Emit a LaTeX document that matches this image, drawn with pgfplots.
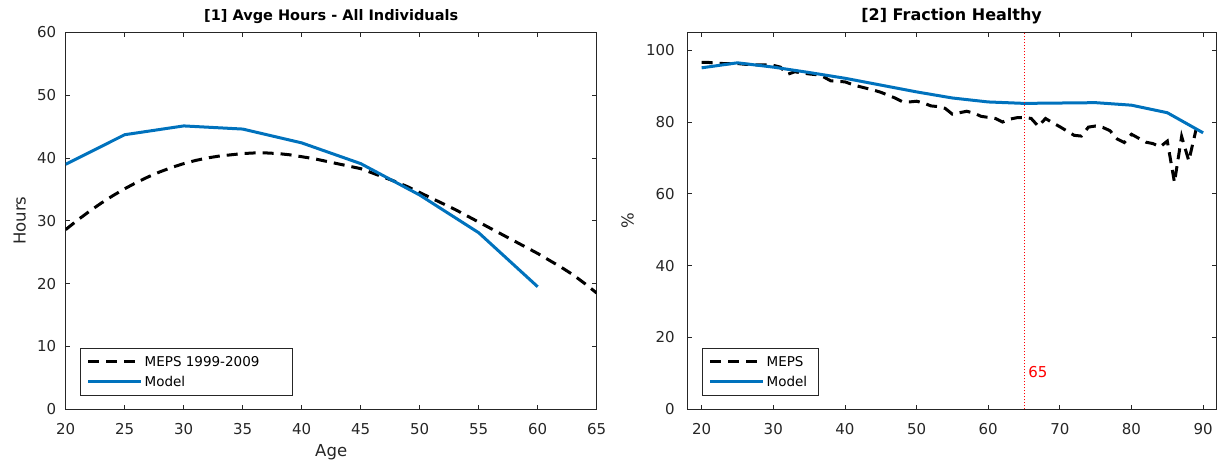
\documentclass[border=0pt]{standalone}
\usepackage{fontspec}
\setmainfont{DejaVu Sans}
\usepackage{pgfplots}
\pgfplotsset{compat=1.18}
\definecolor{mblue}{RGB}{0,114,189}
\definecolor{axgray}{RGB}{38,38,38}

\pgfplotstableread{
age hours
20 28.6
21 30.1
22 31.5
23 32.8
24 34.0
25 35.1
26 36.1
27 37.0
28 37.8
29 38.5
30 39.1
31 39.6
32 40.0
33 40.3
34 40.5
35 40.7
36 40.8
37 40.8
38 40.7
39 40.5
40 40.2
41 39.9
42 39.5
43 39.1
44 38.7
45 38.3
46 37.6
47 36.9
48 36.2
49 35.4
50 34.5
51 33.6
52 32.7
53 31.8
54 30.8
55 29.8
56 28.8
57 27.8
58 26.8
59 25.8
60 24.8
61 23.7
62 22.6
63 21.4
64 20.0
65 18.5
}\mepshours

\pgfplotstableread{
age hours
20 39.0
25 43.7
30 45.1
35 44.6
40 42.4
45 39.1
50 34.1
55 28.1
60 19.5
}\modelhours

\pgfplotstableread{
age pct
20 96.6
21 96.6
22 96.4
23 96.3
24 96.3
25 96.3
26 96.1
27 96.0
28 95.9
29 95.9
30 95.8
31 95.3
32 93.3
33 94.0
34 93.7
35 93.4
36 93.2
37 92.6
38 91.5
39 91.3
40 91.2
41 90.5
42 89.9
43 89.4
44 88.9
45 88.3
46 87.5
47 86.7
48 85.7
49 85.6
50 85.8
51 85.3
52 84.5
53 84.3
54 83.8
55 82.2
56 82.6
57 83.0
58 82.5
59 81.6
60 81.3
61 81.0
62 80.0
63 80.8
64 81.2
65 81.3
66 81.0
67 78.8
68 81.0
69 79.8
70 78.7
71 77.5
72 76.3
73 76.1
74 78.6
75 78.9
76 78.5
77 77.6
78 75.3
79 74.3
80 76.6
81 75.5
82 74.4
83 74.0
84 73.1
85 74.7
86 63.2
87 76.0
88 69.2
89 77.8
}\mepshealth

\pgfplotstableread{
age pct
20 95.1
25 96.5
30 95.3
35 93.8
40 92.2
45 90.3
50 88.4
55 86.7
60 85.6
65 85.2
70 85.3
75 85.4
80 84.7
85 82.6
90 77.0
}\modelhealth

\pgfplotsset{
  myaxis/.style={
    scale only axis,
    axis line style={axgray, line width=0.8pt},
    every tick/.style={axgray, line width=0.8pt},
    major tick length=4.5pt,
    tick align=inside,
    xtick pos=both, ytick pos=both,
    ticklabel style={font=\fontsize{15}{18}\selectfont, text=axgray},
    /pgf/number format/assume math mode=true,
    xticklabel style={anchor=base, yshift=-25.7pt},
    every axis x label/.style={at={(axis description cs:0.5,-0.124)}, anchor=base, font=\fontsize{16.5}{20}\selectfont, text=axgray},
    every axis title/.style={at={(axis description cs:0.5,1)}, anchor=base, yshift=11.6pt, font=\fontsize{16}{20}\selectfont\bfseries},
    legend cell align=left,
    legend style={font=\fontsize{13.5}{16}\selectfont, draw=axgray, line width=0.6pt,
      inner xsep=6pt, inner ysep=3.8pt, row sep=0pt,
      nodes={minimum height=20pt, inner ysep=0pt},
      /tikz/every even column/.append style={column sep=0pt}},
    legend image code/.code={\draw[##1] (0pt,0pt) -- (53pt,0pt);},
  },
  mepsline/.style={black, line width=3pt, dash pattern=on 11pt off 7pt},
  modelline/.style={mblue, line width=3pt},
}

\begin{document}
\begin{tikzpicture}[x=1pt,y=1pt]
\useasboundingbox (0,0) rectangle (1217,470);

\begin{axis}[myaxis,
  at={(65.7pt,60.7pt)}, anchor=south west,
  width=531pt, height=377pt,
  xmin=20, xmax=65, ymin=0, ymax=60,
  xtick={20,25,...,65}, ytick={0,10,...,60},
  yticklabel style={xshift=-6pt},
  xlabel={Age},
  ylabel={Hours},
  every axis y label/.style={at={(axis description cs:-0.0866,0.5)}, rotate=90, anchor=center, font=\fontsize{16.5}{20}\selectfont, text=axgray},
  title={[1] Avge Hours - All Individuals},
  title style={font=\fontsize{14.5}{18}\selectfont\bfseries},
  legend style={at={(axis description cs:0.0277,0.0353)}, anchor=south west},
]
\addplot[mepsline] table[x=age,y=hours] {\mepshours};
\addlegendentry{\makebox[139.5pt][l]{MEPS 1999-2009}}
\addplot[modelline] table[x=age,y=hours] {\modelhours};
\addlegendentry{\makebox[139.5pt][l]{Model}}
\end{axis}

\begin{axis}[myaxis,
  at={(687.3pt,60.7pt)}, anchor=south west,
  width=528.7pt, height=377pt,
  xmin=18, xmax=91.8, ymin=0, ymax=105,
  xtick={20,30,...,90}, ytick={0,20,...,100},
  yticklabel style={xshift=-9pt},
  ylabel={\%},
  every axis y label/.style={at={(axis description cs:-0.113,0.5)}, rotate=90, anchor=center, font=\fontsize{16.5}{20}\selectfont, text=axgray},
  title={[2] Fraction Healthy},
  legend style={at={(axis description cs:0.0284,0.0353)}, anchor=south west},
]
\addplot[mepsline] table[x=age,y=pct] {\mepshealth};
\addlegendentry{\makebox[43.5pt][l]{MEPS}}
\addplot[modelline] table[x=age,y=pct] {\modelhealth};
\addlegendentry{\makebox[43.5pt][l]{Model}}
\addplot[red, line width=1pt, dash pattern=on 1pt off 2pt, forget plot] coordinates {(65,0) (65,105)};
\node[text=red, anchor=west, font=\fontsize{15}{18}\selectfont] at (axis cs:65.1,10.5) {65};
\end{axis}
\end{tikzpicture}
\end{document}
